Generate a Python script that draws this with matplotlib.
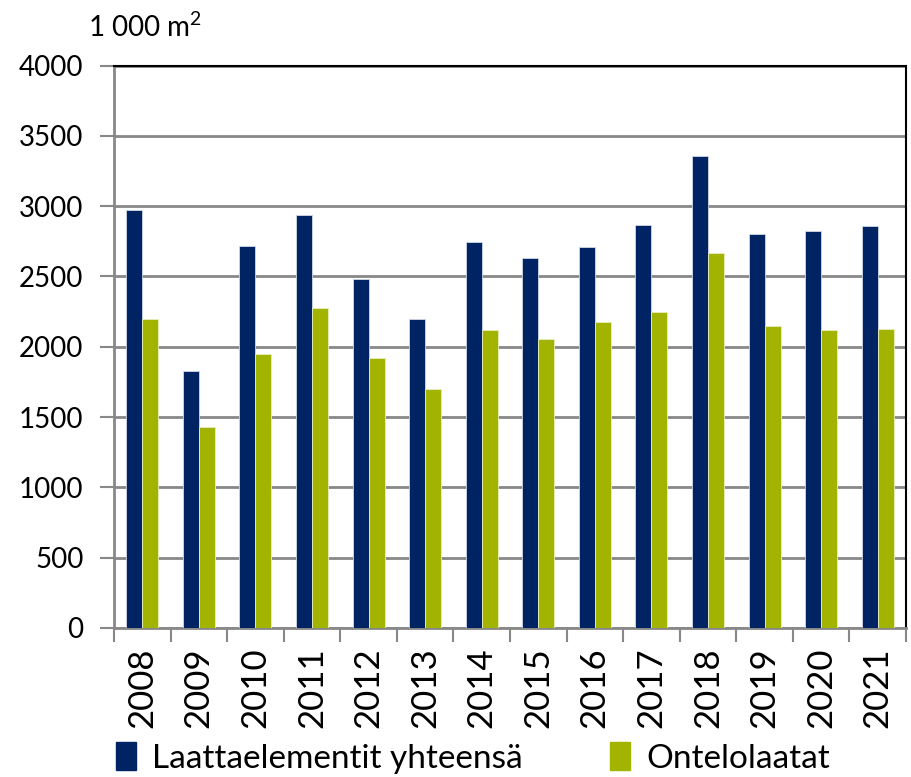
import numpy as np
import matplotlib
matplotlib.use("Agg")
import matplotlib.pyplot as plt
from matplotlib.patches import Patch

plt.rcParams['font.family'] = ['Lato', 'DejaVu Sans']
plt.rcParams['mathtext.fontset'] = 'custom'
plt.rcParams['mathtext.rm'] = 'Lato'

years = ['2008', '2009', '2010', '2011', '2012', '2013', '2014',
         '2015', '2016', '2017', '2018', '2019', '2020', '2021']
laatta = [2975, 1830, 2720, 2936, 2481, 2199, 2745,
          2628, 2709, 2863, 3356, 2803, 2820, 2856]
ontelo = [2197, 1430, 1948, 2275, 1920, 1697, 2117,
          2055, 2178, 2249, 2670, 2149, 2116, 2128]

navy = '#002463'
green = '#A3B400'

fig = plt.figure(figsize=(9.11, 7.77), dpi=100)
ax = fig.add_axes([114/911, 1 - 628/777, 792/911, 562.5/777])

x = np.arange(len(years))
w = 0.283
ax.bar(x - w/2, laatta, w, color=navy, edgecolor='#d0d8e8', linewidth=0.6, zorder=3)
ax.bar(x + w/2, ontelo, w, color=green, edgecolor='#e8eec0', linewidth=0.6, zorder=3)

ax.set_xlim(-0.5, len(years) - 0.5)
ax.set_ylim(0, 4000)
ax.set_yticks(np.arange(0, 4001, 500))
ax.yaxis.grid(True, color='#888888', linewidth=2, zorder=0)
ax.tick_params(axis='y', labelsize=20, length=10, width=1.5, color='#888888', pad=12)

# ticks between the years, labels in the middle
ax.set_xticks(np.arange(-0.5, len(years), 1.0))
ax.set_xticklabels([])
ax.set_xticks(x, minor=True)
ax.set_xticklabels(years, minor=True, rotation=90, fontsize=25)
ax.tick_params(axis='x', which='major', length=10, width=1.5, color='#888888', direction='out')
ax.tick_params(axis='x', which='minor', length=0, pad=14)

for s in ['left', 'bottom']:
    ax.spines[s].set_color('#888888')
    ax.spines[s].set_linewidth(2)
for s in ['top', 'right']:
    ax.spines[s].set_color('black')
    ax.spines[s].set_linewidth(1.5)

fig.text(88/911, 1 - 27/777, r'1 000 m$^{2}$', fontsize=20, va='center', ha='left')

handles = [Patch(color=navy), Patch(color=green)]
fig.legend(handles, ['Laattaelementit yhteensä', 'Ontelolaatat'],
           loc='center', bbox_to_anchor=(473/911, 1 - 758/777), ncol=2,
           frameon=False, fontsize=24, handlelength=0.6, handleheight=0.9,
           handletextpad=0.5, columnspacing=2.6)

fig.savefig('out.png', dpi=100)
